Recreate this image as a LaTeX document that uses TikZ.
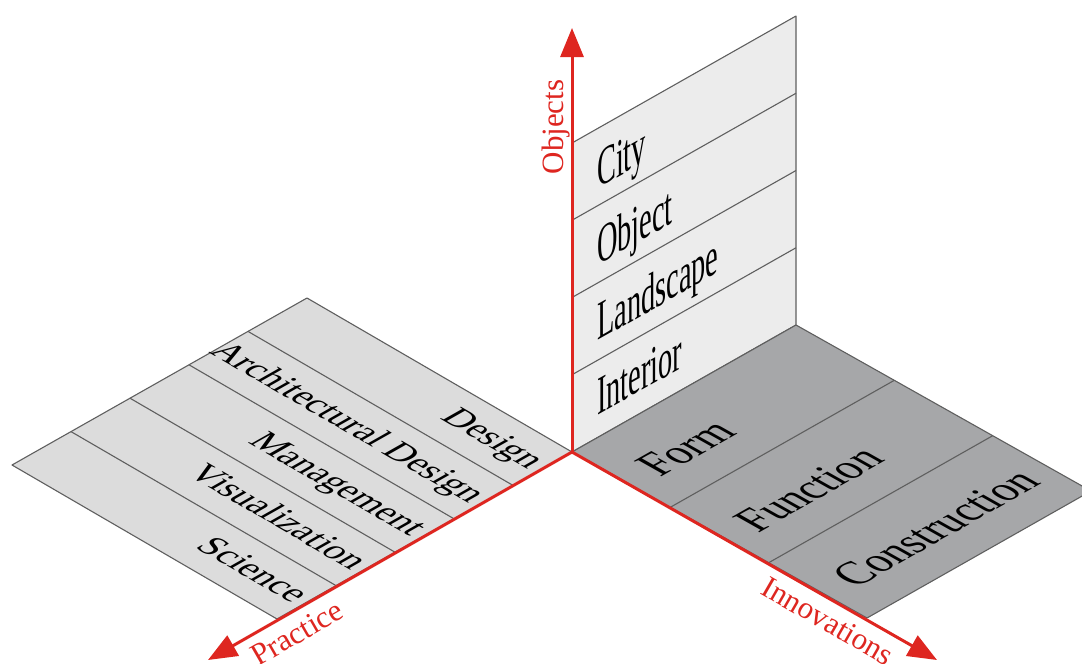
\documentclass[tikz,border=0pt]{standalone}
\usepackage{fontspec}
\setmainfont{Liberation Serif}
\usetikzlibrary{arrows.meta}

\definecolor{axisred}{RGB}{222,38,32}
\definecolor{wallgray}{RGB}{236,236,236}
\definecolor{leftgray}{RGB}{220,220,220}
\definecolor{rightgray}{RGB}{166,167,169}
\definecolor{linegray}{RGB}{95,95,95}

\begin{document}
\begin{tikzpicture}[x=1pt,y=-1pt,
        wallbox/.style={fill=wallgray,draw=linegray,line width=1.1pt,line join=round},
        leftbox/.style={fill=leftgray,draw=linegray,line width=1.1pt,line join=round},
        rightbox/.style={fill=rightgray,draw=linegray,line width=1.1pt,line join=round},
        divider/.style={draw=linegray,line width=1.1pt},
        axis/.style={draw=axisred,line width=3pt,-{Triangle[length=29pt,width=23pt]}},
        axislabel/.style={text=axisred,inner sep=0pt,font=\fontsize{31}{36}\selectfont},
        walltext/.style={cm={0.71,0.40,0,1.36,(0,0)},inner sep=0pt,anchor=base west,font=\fontsize{40}{48}\selectfont},
        righttext/.style={cm={0.9,0.51,-1.045,0.588,(0,0)},inner sep=0pt,anchor=west,font=\fontsize{40}{48}\selectfont},
        lefttext/.style={cm={0.779,-0.452,0.80,0.453,(0,0)},inner sep=0pt,anchor=base east,font=\fontsize{40}{48}\selectfont}
        ]
        \useasboundingbox (0,0) rectangle (1082,664);
        % wall
        \draw[wallbox] (572,452) -- (796,325) -- (796,16) -- (572,143) -- cycle;
        \draw[divider] (572,374.75) -- (796,247.75);
        \draw[divider] (572,297.5) -- (796,170.5);
        \draw[divider] (572,220.25) -- (796,93.25);
        % left floor
        \draw[leftbox] (572,452) -- (277,619) -- (12,465) -- (307,298) -- cycle;
        \draw[divider] (71,431.6) -- (336,585.6);
        \draw[divider] (130,398.2) -- (395,552.2);
        \draw[divider] (189,364.8) -- (454,518.8);
        \draw[divider] (248,331.4) -- (513,485.4);
        % right floor
        \draw[rightbox] (572,452) -- (796,325) -- (1091,491) -- (867,618) -- cycle;
        \draw[divider] (670.3,507.3) -- (894.3,380.3);
        \draw[divider] (768.7,562.7) -- (992.7,435.7);

        \node (city)      [walltext] at (597,189)   {City};
        \node (object)    [walltext] at (597,265.5) {Object};
        \node (landscape) [walltext] at (597,341)   {Landscape};
        \node (interior)  [walltext] at (597,415.8) {Interior};

        \node (design)    [lefttext] at (528,470) {Design};
        \node (archdes)   [lefttext] at (469,503.4) {Architectural Design};
        \node (manage)    [lefttext] at (410,536.8) {Management};
        \node (visual)    [lefttext] at (351,570.2) {Visualization};
        \node (science)   [lefttext] at (292,603.6) {Science};

        \node (form)      [righttext] at (646.5,470.4) {Form};
        \node (function)  [righttext] at (744.8,525.7) {Function};
        \node (construct) [righttext] at (843.1,581)   {Construction};

        % axes
        \coordinate (origin) at (572,452);
        \coordinate (objtip) at (572,28);
        \coordinate (practip) at (208,660);
        \coordinate (innotip) at (937,660);
        \draw[axis] (origin) -- (objtip);
        \draw[axis] (origin) -- (practip);
        \draw[axis] (origin) -- (innotip);
        \node (objects)     [axislabel,rotate=90,anchor=base] at (563,127) {Objects};
        \node (practice)    [axislabel,rotate=30] at (297,633) {Practice};
        \node (innovations) [axislabel,rotate=-30] at (828,621) {Innovations};
\end{tikzpicture}
\end{document}
